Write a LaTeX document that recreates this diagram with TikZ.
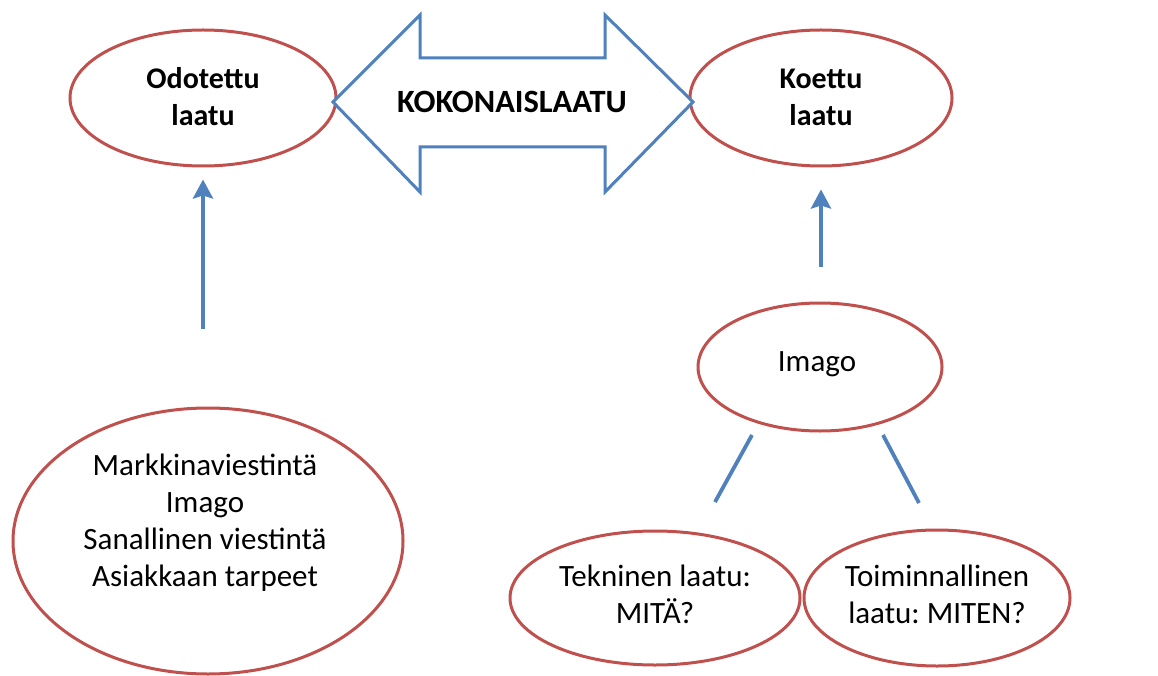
\documentclass[tikz,border=0pt]{standalone}
\usepackage{fontspec}
\setmainfont{Carlito}
\usetikzlibrary{arrows.meta,shapes.geometric,calc}
\definecolor{ered}{RGB}{192,80,77}
\definecolor{eblue}{RGB}{79,129,189}
\frenchspacing
\tikzset{
  ell/.style={draw=ered, line width=3pt, ellipse, inner sep=0pt, fill=white},
  lbl/.style={align=center, font=\fontsize{31}{37}\selectfont, inner sep=0pt},
  blbl/.style={lbl, font=\fontsize{30}{37}\selectfont\bfseries},
  conn/.style={draw=eblue, line width=3.8pt},
  upar/.style={conn, -{Stealth[length=19pt, width=20pt, inset=3pt]}},
}
\begin{document}
\begin{tikzpicture}[x=1pt, y=-1pt]
\useasboundingbox[fill=white] (0,0) rectangle (1158,676);
% ellipses
\node[ell, minimum width=266pt, minimum height=136pt] (odo) at (203,98) {};
\node[ell, minimum width=262pt, minimum height=136pt] (koe) at (821,98) {};
\node[ell, minimum width=244pt, minimum height=128pt] (imago) at (820,367) {};
\node[ell, minimum width=390pt, minimum height=266pt] (big) at (208,541) {};
\node[ell, minimum width=290pt, minimum height=134pt] (tek) at (655,598) {};
\node[ell, minimum width=266pt, minimum height=136pt] (toi) at (937,598) {};
% texts
\node[blbl] (odot) at (203,97) {Odotettu\\laatu};
\node[blbl] (koet) at (821,97) {Koettu\\laatu};
\node[lbl] (imt) at (817,364) {Imago};
\node[lbl] (bigt) at (205,523) {Markkinaviestintä\\Imago\\Sanallinen viestintä\\Asiakkaan tarpeet};
\node[lbl] (tekt) at (655,594) {Tekninen laatu:\\MITÄ?};
\node[lbl] (toit) at (937,594) {Toiminnallinen\\laatu: MITEN?};
% double arrow
\draw[eblue, line width=3pt, line join=miter, fill=white]
  (333,102) -- (420,15) -- (420,58) -- (605,58) -- (605,15) -- (693,102)
  -- (605,192) -- (605,147) -- (420,147) -- (420,192) -- cycle;
\node[lbl, font=\fontsize{32.5}{37}\selectfont\bfseries] (koko) at (512,102) {KOKONAISLAATU};
% arrows
\draw[upar] ($(odo.south)+(0,161)$) -- ($(odo.south)+(0,12)$);
\draw[upar] ($(koe.south)+(0,99)$) -- ($(koe.south)+(0,22)$);
% lines
\coordinate (l1a) at (752,435);
\coordinate (l1b) at (715,502);
\coordinate (l2a) at (883,435);
\coordinate (l2b) at (919,503);
\draw[conn] (l1a) -- (l1b);
\draw[conn] (l2a) -- (l2b);
\end{tikzpicture}
\end{document}
